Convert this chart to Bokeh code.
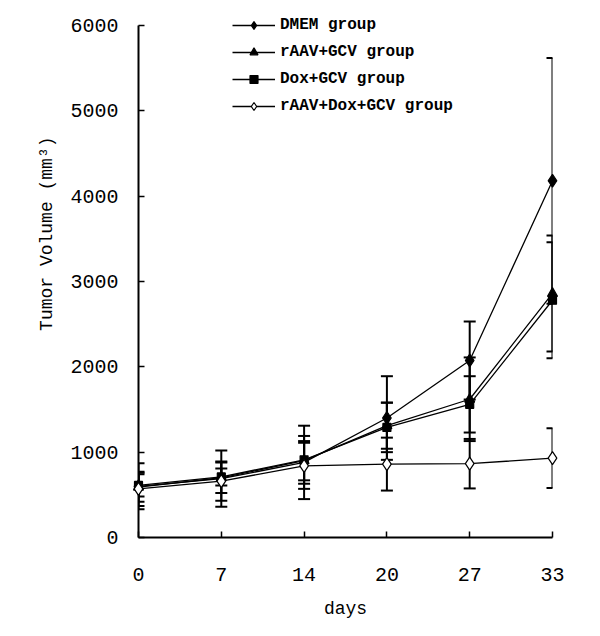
from bokeh.plotting import figure
from bokeh.models import Range1d, Whisker, ColumnDataSource, TeeHead, FixedTicker
from bokeh.embed import file_html
from bokeh.resources import INLINE

# ---- data ----
days = ["0", "7", "14", "20", "27", "33"]
dmem = [600, 690, 880, 1400, 2074, 4180]
dmem_err = [270, 330, 430, 490, 457, 1440]
raav = [590, 700, 900, 1310, 1620, 2860]
raav_err = [170, 180, 230, 270, 490, 680]
dox = [610, 710, 910, 1290, 1560, 2780]
dox_err = [130, 100, 280, 290, 330, 680]
combo = [570, 660, 840, 860, 865, 930]
combo_err = [200, 230, 270, 310, 290, 350]
y_ticks = [0, 1000, 2000, 3000, 4000, 5000, 6000]

series = [
    ("DMEM group", dmem, dmem_err, "diamond", 13, "black"),
    ("rAAV+GCV group", raav, raav_err, "triangle", 10, "black"),
    ("Dox+GCV group", dox, dox_err, "square", 8, "black"),
    ("rAAV+Dox+GCV group", combo, combo_err, "diamond", 13, "white"),
]

xpos = list(range(len(days)))
FONT = "Liberation Mono"

# frame: x from 138 to 552 px, y=0 at 537 px, y=6000 at 25 px; a little headroom above 6000
p = figure(width=600, height=636, output_backend="svg", toolbar_location=None,
           x_range=Range1d(0, len(days) - 1), y_range=Range1d(0, 6234),
           min_border_left=138, min_border_right=48, min_border_top=5, min_border_bottom=99)
p.outline_line_color = None
p.xgrid.visible = False
p.ygrid.visible = False

for name, vals, errs, marker, size, fill in series:
    src = ColumnDataSource(dict(x=xpos, y=vals,
                                upper=[v + e for v, e in zip(vals, errs)],
                                lower=[v - e for v, e in zip(vals, errs)]))
    w = Whisker(source=src, base="x", upper="upper", lower="lower",
                line_color="black", line_width=2,
                upper_head=TeeHead(size=12, line_width=2, line_color="black"),
                lower_head=TeeHead(size=12, line_width=2, line_color="black"))
    p.add_layout(w)
    l = p.line("x", "y", source=src, line_color="black", line_width=1.3, legend_label=name)
    l.level = "overlay"
    s = p.scatter("x", "y", source=src, marker=marker, size=size, fill_color=fill,
                  line_color="black", line_width=1.2, legend_label=name)
    s.level = "overlay"

# axes
p.xaxis.ticker = FixedTicker(ticks=xpos)
p.xaxis.major_label_overrides = {i: d for i, d in zip(xpos, days)}
p.yaxis.ticker = FixedTicker(ticks=y_ticks)
p.yaxis.bounds = (y_ticks[0], y_ticks[-1])
for ax in (p.xaxis, p.yaxis):
    ax.axis_line_width = 2
    ax.axis_line_color = "black"
    ax.major_tick_in = 6
    ax.major_tick_out = 0
    ax.major_tick_line_width = 1.5
    ax.major_tick_line_color = "black"
    ax.minor_tick_line_color = None
    ax.major_label_text_font = FONT
    ax.major_label_text_font_size = "20px"
    ax.major_label_text_color = "black"
p.xaxis.major_label_standoff = 30
p.yaxis.major_label_standoff = 20

p.xaxis.axis_label = "days"
p.yaxis.axis_label = "\u00a0" * 8 + "Tumor Volume  (mm³)"
for ax in (p.xaxis, p.yaxis):
    ax.axis_label_text_font = FONT
    ax.axis_label_text_font_size = "18px"
    ax.axis_label_text_font_style = "normal"
    ax.axis_label_text_color = "black"
p.xaxis.axis_label_standoff = 15
p.yaxis.axis_label_standoff = 10

# legend
lg = p.legend[0]
lg.location = (94, 421)
lg.border_line_color = None
lg.background_fill_alpha = 0
lg.padding = 0
lg.margin = 0
lg.spacing = 7
lg.glyph_width = 43
lg.glyph_height = 20
lg.label_height = 20
lg.label_standoff = 5
lg.label_text_font = FONT
lg.label_text_font_size = "16px"
lg.label_text_font_style = "bold"
lg.label_text_color = "black"

open("out.html", "w").write(file_html(p, INLINE))
